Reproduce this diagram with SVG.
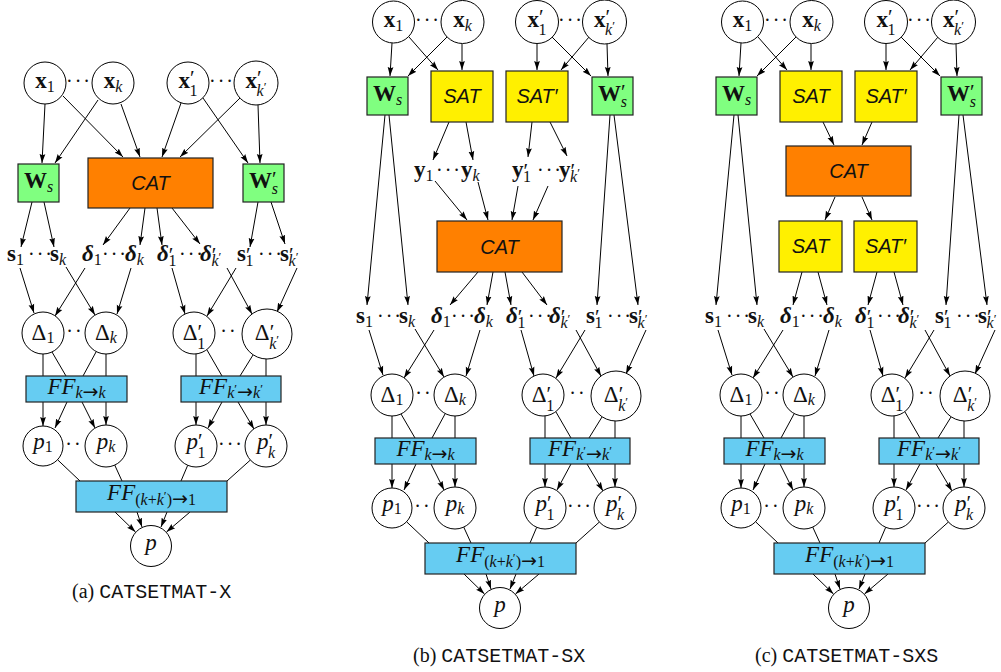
<svg xmlns="http://www.w3.org/2000/svg" width="1001" height="672" viewBox="0 0 1001 672">
<defs>
<marker id="ah" viewBox="0 0 10 10" refX="10" refY="5" markerWidth="9" markerHeight="9" markerUnits="userSpaceOnUse" orient="auto"><path d="M0,1.8 L10,5 L0,8.2 L1.5,5 Z" fill="#000"/></marker>
</defs>
<style>
circle.n{fill:#fff;stroke:#000;stroke-width:1}
.g{fill:#80ff80;stroke:#222;stroke-width:1.2}
.o{fill:#ff8000;stroke:#222;stroke-width:1.2}
.y{fill:#fff000;stroke:#222;stroke-width:1.2}
.bl{fill:#66ccf2;stroke:#222;stroke-width:1.2}
.cn line{stroke:#000;stroke-width:1;fill:none}
.cn line.a{marker-end:url(#ah)}
text{fill:#111}
.m{font-family:"Liberation Serif","DejaVu Serif",serif;font-size:23px}
.c{text-anchor:middle}
.b{font-weight:bold}
.i{font-style:italic}
.s{font-size:16px}
.pr{font-size:21px;font-weight:normal;font-style:normal}
.ss{font-size:13px}
.ar{font-family:"DejaVu Sans",sans-serif;font-size:19px;font-style:normal}
.sf{font-family:"Liberation Sans","DejaVu Sans",sans-serif;font-size:20px;font-style:italic}
.d{font-family:"Liberation Serif","DejaVu Serif",serif;font-size:20px;letter-spacing:2px}
.cap{font-family:"Liberation Serif","DejaVu Serif",serif;font-size:20px}
.tt{font-family:"Liberation Mono","DejaVu Sans Mono",monospace}
</style>
<rect width="1001" height="672" fill="#fff"/>

<!-- ================= PANEL A ================= -->
<g id="panel-a">
 <g id="a-conn-top" class="cn">
  <line class="a" x1="45" y1="104" x2="42" y2="163"/>
  <line class="a" x1="98" y1="100" x2="55" y2="163"/>
  <line class="a" x1="63" y1="96" x2="123" y2="157"/>
  <line class="a" x1="121" y1="104" x2="140" y2="157"/>
  <line class="a" x1="181" y1="103" x2="162" y2="157"/>
  <line class="a" x1="240" y1="98" x2="180" y2="157"/>
  <line class="a" x1="203" y1="98" x2="248" y2="163"/>
  <line class="a" x1="258" y1="105" x2="260" y2="163"/>
  <line class="a" x1="32" y1="202" x2="21" y2="247"/>
  <line class="a" x1="44" y1="202" x2="54" y2="247"/>
  <line class="a" x1="130" y1="208" x2="103" y2="245"/>
  <line class="a" x1="145" y1="208" x2="140" y2="245"/>
  <line class="a" x1="157" y1="208" x2="162" y2="245"/>
  <line class="a" x1="172" y1="208" x2="200" y2="244"/>
  <line class="a" x1="258" y1="202" x2="250" y2="247"/>
  <line class="a" x1="271" y1="202" x2="285" y2="244"/>
 </g>
 <g id="a-x1"><circle class="n" cx="45" cy="83" r="21"/><text class="m c" x="45" y="88"><tspan class="b">x</tspan><tspan class="s" dy="4">1</tspan></text></g>
 <g id="a-xk"><circle class="n" cx="113" cy="83" r="21"/><text class="m c" x="113" y="88"><tspan class="b">x</tspan><tspan class="s i" dy="4">k</tspan></text></g>
 <text class="d c" x="79" y="88">···</text>
 <g id="a-x1p"><circle class="n" cx="188" cy="83" r="21"/><text class="m c" x="188" y="88"><tspan class="b">x</tspan><tspan class="pr" dy="-3">′</tspan><tspan class="s" dx="-5" dy="11">1</tspan></text></g>
 <g id="a-xkp"><circle class="n" cx="256" cy="83" r="22"/><text class="m c" x="256" y="88"><tspan class="b">x</tspan><tspan class="pr" dy="-3">′</tspan><tspan class="s i" dx="-5" dy="11">k</tspan><tspan class="ss" dy="-5">′</tspan></text></g>
 <text class="d c" x="222" y="88">···</text>
 <g id="a-Ws"><rect class="g" x="18" y="164" width="41" height="38"/><text class="m c" x="38.5" y="188"><tspan class="b">W</tspan><tspan class="s i" dy="4">s</tspan></text></g>
 <g id="a-CAT"><rect class="o" x="88" y="158" width="125" height="50"/><text class="sf c" x="150.5" y="190">CAT</text></g>
 <g id="a-Wsp"><rect class="g" x="243" y="164" width="41" height="38"/><text class="m c" x="263.5" y="188"><tspan class="b">W</tspan><tspan class="pr" dy="-2">′</tspan><tspan class="s i" dx="-5" dy="8">s</tspan></text></g>

 <g id="a-lower">
  <g id="a-conn-lower" class="cn">
   <line class="a" x1="20" y1="268" x2="34" y2="313"/>
   <line class="a" x1="66" y1="267" x2="95" y2="315"/>
   <line class="a" x1="85" y1="268" x2="55" y2="316"/>
   <line class="a" x1="131" y1="268" x2="117" y2="314"/>
   <line class="a" x1="172" y1="268" x2="185" y2="314"/>
   <line class="a" x1="236" y1="268" x2="207" y2="316"/>
   <line class="a" x1="227" y1="268" x2="252" y2="314"/>
   <line class="a" x1="297" y1="268" x2="277" y2="312"/>
   <line x1="43" y1="354" x2="43" y2="376"/>
   <line x1="52" y1="352" x2="66" y2="376"/>
   <line x1="96" y1="352" x2="83" y2="376"/>
   <line x1="106" y1="354" x2="106" y2="376"/>
   <line x1="196" y1="354" x2="196" y2="376"/>
   <line x1="207" y1="350" x2="222" y2="376"/>
   <line x1="253" y1="355" x2="240" y2="376"/>
   <line x1="266" y1="359" x2="266" y2="376"/>
   <line class="a" x1="43" y1="402" x2="43" y2="426"/>
   <line class="a" x1="67" y1="402" x2="55" y2="428"/>
   <line class="a" x1="82" y1="402" x2="95" y2="428"/>
   <line class="a" x1="106" y1="402" x2="106" y2="425"/>
   <line class="a" x1="196" y1="402" x2="196" y2="425"/>
   <line class="a" x1="222" y1="402" x2="208" y2="428"/>
   <line class="a" x1="238" y1="402" x2="254" y2="429"/>
   <line class="a" x1="266" y1="402" x2="266" y2="425"/>
   <line x1="57.5" y1="459.7" x2="80" y2="481"/>
   <line x1="114.7" y1="465" x2="122" y2="481"/>
   <line x1="187.7" y1="465.3" x2="181" y2="481"/>
   <line x1="250.4" y1="460" x2="227" y2="481"/>
   <line class="a" x1="115" y1="512" x2="135.5" y2="532"/>
   <line class="a" x1="137" y1="512" x2="142" y2="527"/>
   <line class="a" x1="167" y1="512" x2="161" y2="527"/>
   <line class="a" x1="190" y1="512" x2="166.5" y2="532"/>
  </g>
  <g id="a-s1"><text class="m" x="7" y="261"><tspan class="b">s</tspan><tspan class="s" dy="4">1</tspan></text></g>
  <text class="d" x="28" y="261">···</text>
  <g id="a-sk"><text class="m" x="50" y="261"><tspan class="b">s</tspan><tspan class="s i" dy="4">k</tspan></text></g>
  <g id="a-d1"><text class="m" x="82" y="261"><tspan class="b i">δ</tspan><tspan class="s" dy="4">1</tspan></text></g>
  <text class="d" x="102" y="261">···</text>
  <g id="a-dk"><text class="m" x="125" y="261"><tspan class="b i">δ</tspan><tspan class="s i" dy="4">k</tspan></text></g>
  <g id="a-d1p"><text class="m" x="157" y="261"><tspan class="b i">δ</tspan><tspan class="pr" dy="1">′</tspan><tspan class="s" dx="-5" dy="4">1</tspan></text></g>
  <text class="d" x="179" y="261">···</text>
  <g id="a-dkp"><text class="m" x="200" y="261"><tspan class="b i">δ</tspan><tspan class="pr" dy="1">′</tspan><tspan class="s i" dx="-5" dy="4">k</tspan><tspan class="ss" dy="-5">′</tspan></text></g>
  <g id="a-s1p"><text class="m" x="237" y="261"><tspan class="b">s</tspan><tspan class="pr" dy="1">′</tspan><tspan class="s" dx="-5" dy="4">1</tspan></text></g>
  <text class="d" x="258" y="261">···</text>
  <g id="a-skp"><text class="m" x="280" y="261"><tspan class="b">s</tspan><tspan class="pr" dy="1">′</tspan><tspan class="s i" dx="-5" dy="4">k</tspan><tspan class="ss" dy="-5">′</tspan></text></g>

  <g id="a-D1"><circle class="n" cx="43" cy="333" r="21"/><text class="m c" x="43" y="340"><tspan>Δ</tspan><tspan class="s" dy="3">1</tspan></text></g>
  <g id="a-Dk"><circle class="n" cx="106" cy="333" r="21"/><text class="m c" x="106" y="340"><tspan>Δ</tspan><tspan class="s i" dy="3">k</tspan></text></g>
  <text class="d c" x="75" y="338">··</text>
  <g id="a-D1p"><circle class="n" cx="194" cy="333" r="21"/><text class="m c" x="194" y="340"><tspan>Δ</tspan><tspan class="pr" dy="-1">′</tspan><tspan class="s" dx="-5" dy="10">1</tspan></text></g>
  <g id="a-Dkp"><circle class="n" cx="267" cy="334" r="25"/><text class="m c" x="267" y="340"><tspan>Δ</tspan><tspan class="pr" dy="-1">′</tspan><tspan class="s i" dx="-5" dy="10">k</tspan><tspan class="ss" dy="-5">′</tspan></text></g>
  <text class="d c" x="229" y="338">··</text>

  <g id="a-FF1"><rect class="bl" x="26" y="376" width="101" height="26"/><text class="m c" x="76.5" y="394"><tspan class="i">FF</tspan><tspan class="s" dy="4"><tspan class="i">k</tspan><tspan class="ar">→</tspan><tspan class="i">k</tspan></tspan></text></g>
  <g id="a-FF2"><rect class="bl" x="181" y="376" width="100" height="26"/><text class="m c" x="231" y="394"><tspan class="i">FF</tspan><tspan class="s" dy="4"><tspan class="i">k</tspan><tspan class="ss" dy="-5">′</tspan><tspan class="ar" dy="5">→</tspan><tspan class="i">k</tspan><tspan class="ss" dy="-5">′</tspan></tspan></text></g>

  <g id="a-p1"><circle class="n" cx="43" cy="446" r="20"/><text class="m c" x="43" y="449"><tspan class="i">p</tspan><tspan class="s" dy="3">1</tspan></text></g>
  <g id="a-pk"><circle class="n" cx="106" cy="446" r="21"/><text class="m c" x="106" y="449"><tspan class="i">p</tspan><tspan class="s i" dy="3">k</tspan></text></g>
  <text class="d c" x="74" y="451">··</text>
  <g id="a-p1p"><circle class="n" cx="196" cy="446" r="21"/><text class="m c" x="196" y="449"><tspan class="i">p</tspan><tspan class="pr" dy="-1">′</tspan><tspan class="s" dx="-5" dy="10">1</tspan></text></g>
  <g id="a-pkp"><circle class="n" cx="266" cy="446" r="21"/><text class="m c" x="266" y="449"><tspan class="i">p</tspan><tspan class="pr" dy="-1">′</tspan><tspan class="s i" dx="-5" dy="10">k</tspan></text></g>
  <text class="d c" x="231" y="451">···</text>

  <g id="a-FF3"><rect class="bl" x="76" y="481" width="151" height="31"/><text class="m c" x="151.5" y="500"><tspan class="i">FF</tspan><tspan class="s" dy="5">(<tspan class="i">k</tspan>+<tspan class="i">k</tspan><tspan class="ss" dy="-5">′</tspan><tspan dy="5">)</tspan><tspan class="ar">→</tspan>1</tspan></text></g>
  <g id="a-p"><circle class="n" cx="151" cy="546" r="20.5"/><text class="m c i" x="151" y="550">p</text></g>
 </g>
 <text class="cap" x="72" y="598">(a) <tspan class="tt">CATSETMAT-X</tspan></text>
</g>

<!-- ================= PANEL B ================= -->
<g id="panel-b">
 <g id="b-conn-top" class="cn">
  <line class="a" x1="392" y1="43" x2="390" y2="76"/>
  <line class="a" x1="447" y1="37" x2="408" y2="76"/>
  <line class="a" x1="409" y1="37" x2="438" y2="70"/>
  <line class="a" x1="462" y1="44" x2="462" y2="70"/>
  <line class="a" x1="537" y1="44" x2="537" y2="70"/>
  <line class="a" x1="589" y1="37" x2="561" y2="70"/>
  <line class="a" x1="552" y1="37" x2="591" y2="76"/>
  <line class="a" x1="607" y1="44" x2="608" y2="76"/>
  <line class="a" x1="449" y1="122" x2="433" y2="160"/>
  <line class="a" x1="466" y1="122" x2="473" y2="160"/>
  <line class="a" x1="532" y1="122" x2="528" y2="157"/>
  <line class="a" x1="550" y1="122" x2="567" y2="156"/>
  <line class="a" x1="435" y1="181" x2="467" y2="220"/>
  <line class="a" x1="478" y1="182" x2="488" y2="220"/>
  <line class="a" x1="518" y1="186" x2="512" y2="220"/>
  <line class="a" x1="548" y1="186" x2="533" y2="220"/>
  <line class="a" x1="478" y1="272" x2="450" y2="305"/>
  <line class="a" x1="493" y1="272" x2="487" y2="305"/>
  <line class="a" x1="505" y1="272" x2="511" y2="305"/>
  <line class="a" x1="522" y1="272" x2="547" y2="305"/>
  <line class="a" x1="385" y1="115" x2="367" y2="305"/>
  <line class="a" x1="389" y1="115" x2="408" y2="305"/>
  <line class="a" x1="610" y1="115" x2="597" y2="305"/>
  <line class="a" x1="614" y1="115" x2="638" y2="305"/>
 </g>
 <g id="b-x1"><circle class="n" cx="393.5" cy="22" r="21"/><text class="m c" x="393.5" y="27"><tspan class="b">x</tspan><tspan class="s" dy="4">1</tspan></text></g>
 <g id="b-xk"><circle class="n" cx="462.5" cy="22" r="21.5"/><text class="m c" x="462.5" y="27"><tspan class="b">x</tspan><tspan class="s i" dy="4">k</tspan></text></g>
 <text class="d c" x="428" y="27">···</text>
 <g id="b-x1p"><circle class="n" cx="537" cy="22" r="21.5"/><text class="m c" x="537" y="27"><tspan class="b">x</tspan><tspan class="pr" dy="-3">′</tspan><tspan class="s" dx="-5" dy="11">1</tspan></text></g>
 <g id="b-xkp"><circle class="n" cx="604.5" cy="22" r="22"/><text class="m c" x="604.5" y="27"><tspan class="b">x</tspan><tspan class="pr" dy="-3">′</tspan><tspan class="s i" dx="-5" dy="11">k</tspan><tspan class="ss" dy="-5">′</tspan></text></g>
 <text class="d c" x="571" y="27">···</text>
 <g id="b-Ws"><rect class="g" x="367" y="77" width="41" height="38"/><text class="m c" x="387.5" y="101"><tspan class="b">W</tspan><tspan class="s i" dy="4">s</tspan></text></g>
 <g id="b-SAT"><rect class="y" x="431" y="71" width="62" height="51"/><text class="sf c" x="462" y="103">SAT</text></g>
 <g id="b-SATp"><rect class="y" x="506" y="71" width="62" height="51"/><text class="sf c" x="537" y="103">SAT′</text></g>
 <g id="b-Wsp"><rect class="g" x="592" y="77" width="41" height="38"/><text class="m c" x="612.5" y="101"><tspan class="b">W</tspan><tspan class="pr" dy="-2">′</tspan><tspan class="s i" dx="-5" dy="8">s</tspan></text></g>
 <g id="b-y1"><text class="m" x="414" y="177"><tspan class="b">y</tspan><tspan class="s" dy="4">1</tspan></text></g>
 <text class="d" x="436" y="177">···</text>
 <g id="b-yk"><text class="m" x="461" y="177"><tspan class="b">y</tspan><tspan class="s i" dy="4">k</tspan></text></g>
 <g id="b-y1p"><text class="m" x="512" y="177"><tspan class="b">y</tspan><tspan class="pr" dy="1">′</tspan><tspan class="s" dx="-5" dy="4">1</tspan></text></g>
 <text class="d" x="537" y="177">···</text>
 <g id="b-ykp"><text class="m" x="559" y="177"><tspan class="b">y</tspan><tspan class="pr" dy="1">′</tspan><tspan class="s i" dx="-5" dy="4">k</tspan><tspan class="ss" dy="-5">′</tspan></text></g>
 <g id="b-CAT"><rect class="o" x="437" y="221" width="125" height="51"/><text class="sf c" x="499.5" y="254">CAT</text></g>

 <g id="b-lower" transform="translate(349,62)">
  <g id="b-conn-lower" class="cn">
   <line class="a" x1="20" y1="268" x2="34" y2="313"/>
   <line class="a" x1="66" y1="267" x2="95" y2="315"/>
   <line class="a" x1="85" y1="268" x2="55" y2="316"/>
   <line class="a" x1="131" y1="268" x2="117" y2="314"/>
   <line class="a" x1="172" y1="268" x2="185" y2="314"/>
   <line class="a" x1="236" y1="268" x2="207" y2="316"/>
   <line class="a" x1="227" y1="268" x2="252" y2="314"/>
   <line class="a" x1="297" y1="268" x2="277" y2="312"/>
   <line x1="43" y1="354" x2="43" y2="376"/>
   <line x1="52" y1="352" x2="66" y2="376"/>
   <line x1="96" y1="352" x2="83" y2="376"/>
   <line x1="106" y1="354" x2="106" y2="376"/>
   <line x1="196" y1="354" x2="196" y2="376"/>
   <line x1="207" y1="350" x2="222" y2="376"/>
   <line x1="253" y1="355" x2="240" y2="376"/>
   <line x1="266" y1="359" x2="266" y2="376"/>
   <line class="a" x1="43" y1="402" x2="43" y2="426"/>
   <line class="a" x1="67" y1="402" x2="55" y2="428"/>
   <line class="a" x1="82" y1="402" x2="95" y2="428"/>
   <line class="a" x1="106" y1="402" x2="106" y2="425"/>
   <line class="a" x1="196" y1="402" x2="196" y2="425"/>
   <line class="a" x1="222" y1="402" x2="208" y2="428"/>
   <line class="a" x1="238" y1="402" x2="254" y2="429"/>
   <line class="a" x1="266" y1="402" x2="266" y2="425"/>
   <line x1="57.5" y1="459.7" x2="80" y2="481"/>
   <line x1="114.7" y1="465" x2="122" y2="481"/>
   <line x1="187.7" y1="465.3" x2="181" y2="481"/>
   <line x1="250.4" y1="460" x2="227" y2="481"/>
   <line class="a" x1="115" y1="512" x2="135.5" y2="532"/>
   <line class="a" x1="137" y1="512" x2="142" y2="527"/>
   <line class="a" x1="167" y1="512" x2="161" y2="527"/>
   <line class="a" x1="190" y1="512" x2="166.5" y2="532"/>
  </g>
  <g id="b-s1"><text class="m" x="7" y="261"><tspan class="b">s</tspan><tspan class="s" dy="4">1</tspan></text></g>
  <text class="d" x="28" y="261">···</text>
  <g id="b-sk"><text class="m" x="50" y="261"><tspan class="b">s</tspan><tspan class="s i" dy="4">k</tspan></text></g>
  <g id="b-d1"><text class="m" x="82" y="261"><tspan class="b i">δ</tspan><tspan class="s" dy="4">1</tspan></text></g>
  <text class="d" x="102" y="261">···</text>
  <g id="b-dk"><text class="m" x="125" y="261"><tspan class="b i">δ</tspan><tspan class="s i" dy="4">k</tspan></text></g>
  <g id="b-d1p"><text class="m" x="157" y="261"><tspan class="b i">δ</tspan><tspan class="pr" dy="1">′</tspan><tspan class="s" dx="-5" dy="4">1</tspan></text></g>
  <text class="d" x="179" y="261">···</text>
  <g id="b-dkp"><text class="m" x="200" y="261"><tspan class="b i">δ</tspan><tspan class="pr" dy="1">′</tspan><tspan class="s i" dx="-5" dy="4">k</tspan><tspan class="ss" dy="-5">′</tspan></text></g>
  <g id="b-s1p"><text class="m" x="237" y="261"><tspan class="b">s</tspan><tspan class="pr" dy="1">′</tspan><tspan class="s" dx="-5" dy="4">1</tspan></text></g>
  <text class="d" x="258" y="261">···</text>
  <g id="b-skp"><text class="m" x="280" y="261"><tspan class="b">s</tspan><tspan class="pr" dy="1">′</tspan><tspan class="s i" dx="-5" dy="4">k</tspan><tspan class="ss" dy="-5">′</tspan></text></g>

  <g id="b-D1"><circle class="n" cx="43" cy="333" r="21"/><text class="m c" x="43" y="340"><tspan>Δ</tspan><tspan class="s" dy="3">1</tspan></text></g>
  <g id="b-Dk"><circle class="n" cx="106" cy="333" r="21"/><text class="m c" x="106" y="340"><tspan>Δ</tspan><tspan class="s i" dy="3">k</tspan></text></g>
  <text class="d c" x="75" y="338">··</text>
  <g id="b-D1p"><circle class="n" cx="194" cy="333" r="21"/><text class="m c" x="194" y="340"><tspan>Δ</tspan><tspan class="pr" dy="-1">′</tspan><tspan class="s" dx="-5" dy="10">1</tspan></text></g>
  <g id="b-Dkp"><circle class="n" cx="267" cy="334" r="25"/><text class="m c" x="267" y="340"><tspan>Δ</tspan><tspan class="pr" dy="-1">′</tspan><tspan class="s i" dx="-5" dy="10">k</tspan><tspan class="ss" dy="-5">′</tspan></text></g>
  <text class="d c" x="229" y="338">··</text>

  <g id="b-FF1"><rect class="bl" x="26" y="376" width="101" height="26"/><text class="m c" x="76.5" y="394"><tspan class="i">FF</tspan><tspan class="s" dy="4"><tspan class="i">k</tspan><tspan class="ar">→</tspan><tspan class="i">k</tspan></tspan></text></g>
  <g id="b-FF2"><rect class="bl" x="181" y="376" width="100" height="26"/><text class="m c" x="231" y="394"><tspan class="i">FF</tspan><tspan class="s" dy="4"><tspan class="i">k</tspan><tspan class="ss" dy="-5">′</tspan><tspan class="ar" dy="5">→</tspan><tspan class="i">k</tspan><tspan class="ss" dy="-5">′</tspan></tspan></text></g>

  <g id="b-p1"><circle class="n" cx="43" cy="446" r="20"/><text class="m c" x="43" y="449"><tspan class="i">p</tspan><tspan class="s" dy="3">1</tspan></text></g>
  <g id="b-pk"><circle class="n" cx="106" cy="446" r="21"/><text class="m c" x="106" y="449"><tspan class="i">p</tspan><tspan class="s i" dy="3">k</tspan></text></g>
  <text class="d c" x="74" y="451">··</text>
  <g id="b-p1p"><circle class="n" cx="196" cy="446" r="21"/><text class="m c" x="196" y="449"><tspan class="i">p</tspan><tspan class="pr" dy="-1">′</tspan><tspan class="s" dx="-5" dy="10">1</tspan></text></g>
  <g id="b-pkp"><circle class="n" cx="266" cy="446" r="21"/><text class="m c" x="266" y="449"><tspan class="i">p</tspan><tspan class="pr" dy="-1">′</tspan><tspan class="s i" dx="-5" dy="10">k</tspan></text></g>
  <text class="d c" x="231" y="451">···</text>

  <g id="b-FF3"><rect class="bl" x="76" y="481" width="151" height="31"/><text class="m c" x="151.5" y="500"><tspan class="i">FF</tspan><tspan class="s" dy="5">(<tspan class="i">k</tspan>+<tspan class="i">k</tspan><tspan class="ss" dy="-5">′</tspan><tspan dy="5">)</tspan><tspan class="ar">→</tspan>1</tspan></text></g>
  <g id="b-p"><circle class="n" cx="151" cy="546" r="20.5"/><text class="m c i" x="151" y="550">p</text></g>
 </g>
 <text class="cap" x="413" y="662">(b) <tspan class="tt">CATSETMAT-SX</tspan></text>
</g>

<!-- ================= PANEL C ================= -->
<g id="panel-c">
 <g id="c-upper" transform="translate(349,0)">
  <g id="c-conn-top" class="cn">
   <line class="a" x1="392" y1="43" x2="390" y2="76"/>
   <line class="a" x1="447" y1="37" x2="408" y2="76"/>
   <line class="a" x1="409" y1="37" x2="438" y2="70"/>
   <line class="a" x1="462" y1="44" x2="462" y2="70"/>
   <line class="a" x1="537" y1="44" x2="537" y2="70"/>
   <line class="a" x1="589" y1="37" x2="561" y2="70"/>
   <line class="a" x1="552" y1="37" x2="591" y2="76"/>
   <line class="a" x1="607" y1="44" x2="608" y2="76"/>
   <line class="a" x1="474" y1="122" x2="485" y2="145"/>
   <line class="a" x1="523" y1="122" x2="513" y2="145"/>
   <line class="a" x1="486" y1="197" x2="476" y2="220"/>
   <line class="a" x1="513" y1="197" x2="523" y2="220"/>
   <line class="a" x1="453" y1="272" x2="444" y2="305"/>
   <line class="a" x1="469" y1="272" x2="478" y2="305"/>
   <line class="a" x1="528" y1="272" x2="519" y2="305"/>
   <line class="a" x1="545" y1="272" x2="554" y2="305"/>
   <line class="a" x1="385" y1="115" x2="367" y2="305"/>
   <line class="a" x1="389" y1="115" x2="408" y2="305"/>
   <line class="a" x1="610" y1="115" x2="597" y2="305"/>
   <line class="a" x1="614" y1="115" x2="638" y2="305"/>
  </g>
  <g id="c-x1"><circle class="n" cx="393.5" cy="22" r="21"/><text class="m c" x="393.5" y="27"><tspan class="b">x</tspan><tspan class="s" dy="4">1</tspan></text></g>
  <g id="c-xk"><circle class="n" cx="462.5" cy="22" r="21.5"/><text class="m c" x="462.5" y="27"><tspan class="b">x</tspan><tspan class="s i" dy="4">k</tspan></text></g>
  <text class="d c" x="428" y="27">···</text>
  <g id="c-x1p"><circle class="n" cx="537" cy="22" r="21.5"/><text class="m c" x="537" y="27"><tspan class="b">x</tspan><tspan class="pr" dy="-3">′</tspan><tspan class="s" dx="-5" dy="11">1</tspan></text></g>
  <g id="c-xkp"><circle class="n" cx="604.5" cy="22" r="22"/><text class="m c" x="604.5" y="27"><tspan class="b">x</tspan><tspan class="pr" dy="-3">′</tspan><tspan class="s i" dx="-5" dy="11">k</tspan><tspan class="ss" dy="-5">′</tspan></text></g>
  <text class="d c" x="571" y="27">···</text>
  <g id="c-Ws"><rect class="g" x="367" y="77" width="41" height="38"/><text class="m c" x="387.5" y="101"><tspan class="b">W</tspan><tspan class="s i" dy="4">s</tspan></text></g>
  <g id="c-SAT"><rect class="y" x="431" y="71" width="62" height="51"/><text class="sf c" x="462" y="103">SAT</text></g>
  <g id="c-SATp"><rect class="y" x="506" y="71" width="62" height="51"/><text class="sf c" x="537" y="103">SAT′</text></g>
  <g id="c-Wsp"><rect class="g" x="592" y="77" width="41" height="38"/><text class="m c" x="612.5" y="101"><tspan class="b">W</tspan><tspan class="pr" dy="-2">′</tspan><tspan class="s i" dx="-5" dy="8">s</tspan></text></g>
  <g id="c-CAT"><rect class="o" x="437" y="146" width="125" height="50"/><text class="sf c" x="499.5" y="178">CAT</text></g>
  <g id="c-SAT2"><rect class="y" x="430" y="221" width="63" height="51"/><text class="sf c" x="461.5" y="253">SAT</text></g>
  <g id="c-SATp2"><rect class="y" x="505" y="221" width="63" height="51"/><text class="sf c" x="536.5" y="253">SAT′</text></g>
 </g>

 <g id="c-lower" transform="translate(698,62)">
  <g id="c-conn-lower" class="cn">
   <line class="a" x1="20" y1="268" x2="34" y2="313"/>
   <line class="a" x1="66" y1="267" x2="95" y2="315"/>
   <line class="a" x1="85" y1="268" x2="55" y2="316"/>
   <line class="a" x1="131" y1="268" x2="117" y2="314"/>
   <line class="a" x1="172" y1="268" x2="185" y2="314"/>
   <line class="a" x1="236" y1="268" x2="207" y2="316"/>
   <line class="a" x1="227" y1="268" x2="252" y2="314"/>
   <line class="a" x1="297" y1="268" x2="277" y2="312"/>
   <line x1="43" y1="354" x2="43" y2="376"/>
   <line x1="52" y1="352" x2="66" y2="376"/>
   <line x1="96" y1="352" x2="83" y2="376"/>
   <line x1="106" y1="354" x2="106" y2="376"/>
   <line x1="196" y1="354" x2="196" y2="376"/>
   <line x1="207" y1="350" x2="222" y2="376"/>
   <line x1="253" y1="355" x2="240" y2="376"/>
   <line x1="266" y1="359" x2="266" y2="376"/>
   <line class="a" x1="43" y1="402" x2="43" y2="426"/>
   <line class="a" x1="67" y1="402" x2="55" y2="428"/>
   <line class="a" x1="82" y1="402" x2="95" y2="428"/>
   <line class="a" x1="106" y1="402" x2="106" y2="425"/>
   <line class="a" x1="196" y1="402" x2="196" y2="425"/>
   <line class="a" x1="222" y1="402" x2="208" y2="428"/>
   <line class="a" x1="238" y1="402" x2="254" y2="429"/>
   <line class="a" x1="266" y1="402" x2="266" y2="425"/>
   <line x1="57.5" y1="459.7" x2="80" y2="481"/>
   <line x1="114.7" y1="465" x2="122" y2="481"/>
   <line x1="187.7" y1="465.3" x2="181" y2="481"/>
   <line x1="250.4" y1="460" x2="227" y2="481"/>
   <line class="a" x1="115" y1="512" x2="135.5" y2="532"/>
   <line class="a" x1="137" y1="512" x2="142" y2="527"/>
   <line class="a" x1="167" y1="512" x2="161" y2="527"/>
   <line class="a" x1="190" y1="512" x2="166.5" y2="532"/>
  </g>
  <g id="c-s1"><text class="m" x="7" y="261"><tspan class="b">s</tspan><tspan class="s" dy="4">1</tspan></text></g>
  <text class="d" x="28" y="261">···</text>
  <g id="c-sk"><text class="m" x="50" y="261"><tspan class="b">s</tspan><tspan class="s i" dy="4">k</tspan></text></g>
  <g id="c-d1"><text class="m" x="82" y="261"><tspan class="b i">δ</tspan><tspan class="s" dy="4">1</tspan></text></g>
  <text class="d" x="102" y="261">···</text>
  <g id="c-dk"><text class="m" x="125" y="261"><tspan class="b i">δ</tspan><tspan class="s i" dy="4">k</tspan></text></g>
  <g id="c-d1p"><text class="m" x="157" y="261"><tspan class="b i">δ</tspan><tspan class="pr" dy="1">′</tspan><tspan class="s" dx="-5" dy="4">1</tspan></text></g>
  <text class="d" x="179" y="261">···</text>
  <g id="c-dkp"><text class="m" x="200" y="261"><tspan class="b i">δ</tspan><tspan class="pr" dy="1">′</tspan><tspan class="s i" dx="-5" dy="4">k</tspan><tspan class="ss" dy="-5">′</tspan></text></g>
  <g id="c-s1p"><text class="m" x="237" y="261"><tspan class="b">s</tspan><tspan class="pr" dy="1">′</tspan><tspan class="s" dx="-5" dy="4">1</tspan></text></g>
  <text class="d" x="258" y="261">···</text>
  <g id="c-skp"><text class="m" x="280" y="261"><tspan class="b">s</tspan><tspan class="pr" dy="1">′</tspan><tspan class="s i" dx="-5" dy="4">k</tspan><tspan class="ss" dy="-5">′</tspan></text></g>

  <g id="c-D1"><circle class="n" cx="43" cy="333" r="21"/><text class="m c" x="43" y="340"><tspan>Δ</tspan><tspan class="s" dy="3">1</tspan></text></g>
  <g id="c-Dk"><circle class="n" cx="106" cy="333" r="21"/><text class="m c" x="106" y="340"><tspan>Δ</tspan><tspan class="s i" dy="3">k</tspan></text></g>
  <text class="d c" x="75" y="338">··</text>
  <g id="c-D1p"><circle class="n" cx="194" cy="333" r="21"/><text class="m c" x="194" y="340"><tspan>Δ</tspan><tspan class="pr" dy="-1">′</tspan><tspan class="s" dx="-5" dy="10">1</tspan></text></g>
  <g id="c-Dkp"><circle class="n" cx="267" cy="334" r="25"/><text class="m c" x="267" y="340"><tspan>Δ</tspan><tspan class="pr" dy="-1">′</tspan><tspan class="s i" dx="-5" dy="10">k</tspan><tspan class="ss" dy="-5">′</tspan></text></g>
  <text class="d c" x="229" y="338">··</text>

  <g id="c-FF1"><rect class="bl" x="26" y="376" width="101" height="26"/><text class="m c" x="76.5" y="394"><tspan class="i">FF</tspan><tspan class="s" dy="4"><tspan class="i">k</tspan><tspan class="ar">→</tspan><tspan class="i">k</tspan></tspan></text></g>
  <g id="c-FF2"><rect class="bl" x="181" y="376" width="100" height="26"/><text class="m c" x="231" y="394"><tspan class="i">FF</tspan><tspan class="s" dy="4"><tspan class="i">k</tspan><tspan class="ss" dy="-5">′</tspan><tspan class="ar" dy="5">→</tspan><tspan class="i">k</tspan><tspan class="ss" dy="-5">′</tspan></tspan></text></g>

  <g id="c-p1"><circle class="n" cx="43" cy="446" r="20"/><text class="m c" x="43" y="449"><tspan class="i">p</tspan><tspan class="s" dy="3">1</tspan></text></g>
  <g id="c-pk"><circle class="n" cx="106" cy="446" r="21"/><text class="m c" x="106" y="449"><tspan class="i">p</tspan><tspan class="s i" dy="3">k</tspan></text></g>
  <text class="d c" x="74" y="451">··</text>
  <g id="c-p1p"><circle class="n" cx="196" cy="446" r="21"/><text class="m c" x="196" y="449"><tspan class="i">p</tspan><tspan class="pr" dy="-1">′</tspan><tspan class="s" dx="-5" dy="10">1</tspan></text></g>
  <g id="c-pkp"><circle class="n" cx="266" cy="446" r="21"/><text class="m c" x="266" y="449"><tspan class="i">p</tspan><tspan class="pr" dy="-1">′</tspan><tspan class="s i" dx="-5" dy="10">k</tspan></text></g>
  <text class="d c" x="231" y="451">···</text>

  <g id="c-FF3"><rect class="bl" x="76" y="481" width="151" height="31"/><text class="m c" x="151.5" y="500"><tspan class="i">FF</tspan><tspan class="s" dy="5">(<tspan class="i">k</tspan>+<tspan class="i">k</tspan><tspan class="ss" dy="-5">′</tspan><tspan dy="5">)</tspan><tspan class="ar">→</tspan>1</tspan></text></g>
  <g id="c-p"><circle class="n" cx="151" cy="546" r="20.5"/><text class="m c i" x="151" y="550">p</text></g>
 </g>
 <text class="cap" x="755" y="662">(c) <tspan class="tt">CATSETMAT-SXS</tspan></text>
</g>
</svg>
